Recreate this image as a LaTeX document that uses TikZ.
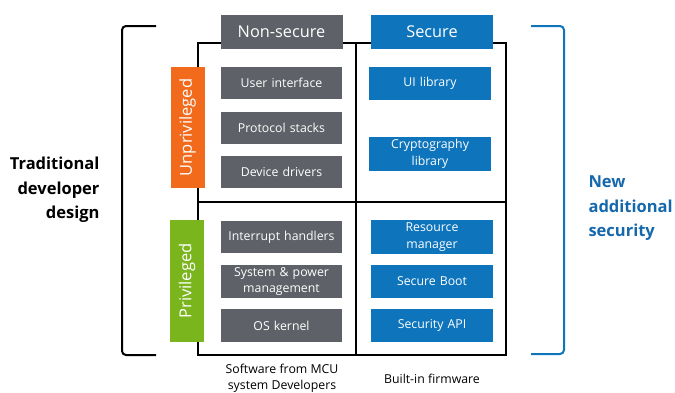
\documentclass[tikz,border=0pt]{standalone}
\usepackage{xcolor}
\usepackage{fontspec}
\setmainfont{Open Sans}
\usetikzlibrary{arrows,shapes,calc,positioning}
\definecolor{boxgray}{HTML}{5E6167}
\definecolor{secblue}{HTML}{0E74BC}
\definecolor{textblue}{HTML}{1568AC}
\definecolor{unprivorange}{HTML}{F26B1D}
\definecolor{privgreen}{HTML}{7AB51D}

\begin{document}
\begin{tikzpicture}[x=1pt, y=-1pt]
		\tikzstyle{every node}=[font=\fontsize{12.3}{16.5}\selectfont]
		\tikzstyle{nsbox}=[fill=boxgray, text=white, minimum width=121pt, minimum height=32pt, inner sep=1pt, align=center, text width=118pt]
		\tikzstyle{sbox}=[fill=secblue, text=white, minimum width=122pt, minimum height=33pt, inner sep=1pt, align=center, text width=118pt]
		\tikzstyle{head}=[minimum width=122pt, minimum height=34pt, text=white, font=\fontsize{16.3}{18}\selectfont]
		\tikzstyle{levelbar}=[minimum width=121pt, minimum height=34pt, inner sep=1pt, rotate=90, text=white, font=\fontsize{16.5}{18}\selectfont]
		\tikzstyle{sidetext}=[font=\bfseries\fontsize{16.5}{24.5}\selectfont]
		\useasboundingbox (0,0) rectangle (675,392);
		% grid frame
		\draw [line width=1.1pt] (198,43) rectangle (506,355);
		\draw [line width=1.1pt] (356,43) -- (356,355);
		\draw [line width=1.1pt] (198,202) -- (506,202);
		% column headers
		\node [head, fill=boxgray] (nonsecure) at (281.5,31.5) {Non-secure};
		\node [head, fill=secblue] (secure) at (432,32) {Secure};
		% privilege levels
		\node [levelbar, fill=unprivorange] (unpriv) at (187.5,127.5) {Unprivileged};
		\node [levelbar, fill=privgreen, minimum width=122pt] (priv) at (187,281) {Privileged};
		% non-secure software
		\node [nsbox] (userif) at (281.5,83) {User interface};
		\node [nsbox] (protocol) at (281.5,128) {Protocol stacks};
		\node [nsbox] (drivers) at (281.5,171.5) {Device drivers};
		\node [nsbox] (interrupt) at (281.5,237) {Interrupt handlers};
		\node [nsbox, minimum height=33pt] (syspower) at (281.5,281.5) {System \& power\\management};
		\node [nsbox, minimum height=33pt] (oskernel) at (281.5,325.5) {OS kernel};
		% secure firmware
		\node [sbox] (uilib) at (430,83) {UI library};
		\node [sbox, minimum height=34pt] (cryptolib) at (430,154) {Cryptography\\library};
		\node [sbox, minimum height=34pt] (resmgr) at (432,237) {Resource\\manager};
		\node [sbox] (secboot) at (432,281.5) {Secure Boot};
		\node [sbox] (secapi) at (432,325.5) {Security API};
		% captions
		\node [align=center, font=\fontsize{12.3}{16}\selectfont] (swcaption) at (282,378) {Software from MCU\\system Developers};
		\node [font=\fontsize{12.3}{14}\selectfont] (fwcaption) at (432,379) {Built-in firmware};
		% brackets
		\draw [line width=2pt, rounded corners=4pt] (156,26) -- (122,26) -- (122,355) -- (156,355);
		\draw [line width=2pt, secblue, rounded corners=4pt] (531,26) -- (564,26) -- (564,354) -- (531,354);
		\node [sidetext, align=right, anchor=east] (traditional) at (103,190) {Traditional\\developer\\design};
		\node [sidetext, align=left, anchor=west, text=textblue] (newsec) at (585,208.5) {New\\additional\\security};
	\end{tikzpicture}
\end{document}
